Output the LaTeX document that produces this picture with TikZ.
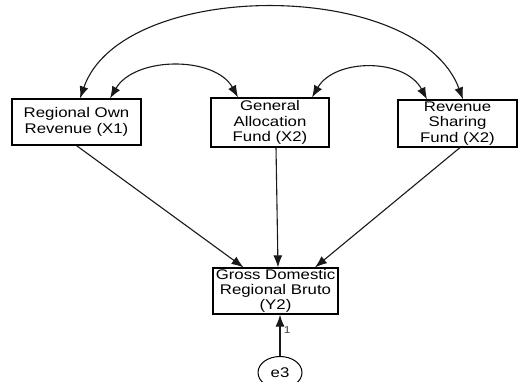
\documentclass[tikz,border=0pt]{standalone}
\usepackage{fontspec}
\setmainfont[FakeStretch=1.2]{Liberation Sans}
\usetikzlibrary{arrows.meta,shapes.geometric}
\begin{document}
\begin{tikzpicture}[x=1pt,y=-1pt,
  var/.style={draw=black,line width=1.2pt,align=center,inner sep=0pt,
    font=\fontsize{14}{15.3}\selectfont,text=black},
  err/.style={draw=black,line width=1pt,ellipse,minimum width=44pt,minimum height=32pt,
    inner sep=0pt,font=\fontsize{14}{15.3}\selectfont},
  path/.style={draw=black!90,line width=1.1pt,-{Latex[length=12pt,width=9pt]}},
  cov/.style={draw=black!90,line width=1.1pt,{Latex[length=12pt,width=9pt]}-{Latex[length=12pt,width=9pt]}}]
\useasboundingbox (0,0) rectangle (518,381);
\fill[white] (0,0) rectangle (518,381);

% observed variables
\node[var,minimum width=129pt,minimum height=46pt] (b1) at (76.5,122) {Regional Own\\Revenue (X1)};
\node[var,minimum width=118pt,minimum height=49pt] (b2) at (270,122.5) {General\\Allocation\\Fund (X2)};
\node[var,minimum width=119pt,minimum height=47pt] (b3) at (457.5,123.5) {Revenue\\Sharing\\Fund (X2)};
\node[var,minimum width=125pt,minimum height=46pt] (y2) at (275.5,291) {Gross Domestic\\Regional Bruto\\(Y2)};

% error term
\node[err] (e3) at (280,372.5) {e3};

% covariances
\draw[cov] ([xshift=5.5]b3.north) .. controls (418,-22) and (122,-22) .. ([xshift=3.5]b1.north);
\draw[cov] ([xshift=33.5]b1.north) .. controls (135,56) and (215,56) .. ([xshift=-32]b2.north);
\draw[cov] ([xshift=42]b2.north) .. controls (335,58) and (405,58) .. ([xshift=-30.5]b3.north);

% regression paths
\draw[path] (b1.south) -- ([xshift=-32]y2.north);
\draw[path] ([xshift=6]b2.south) -- ([xshift=2.5]y2.north);
\draw[path] ([xshift=2.5]b3.south) -- ([xshift=39.5]y2.north);
\draw[path] (e3.north) -- (e3.north |- y2.south)
  node[pos=0.63,right=0pt,font=\fontsize{10}{11}\selectfont,text=black!70!cyan!60!black] (w1) {1};
\end{tikzpicture}
\end{document}
